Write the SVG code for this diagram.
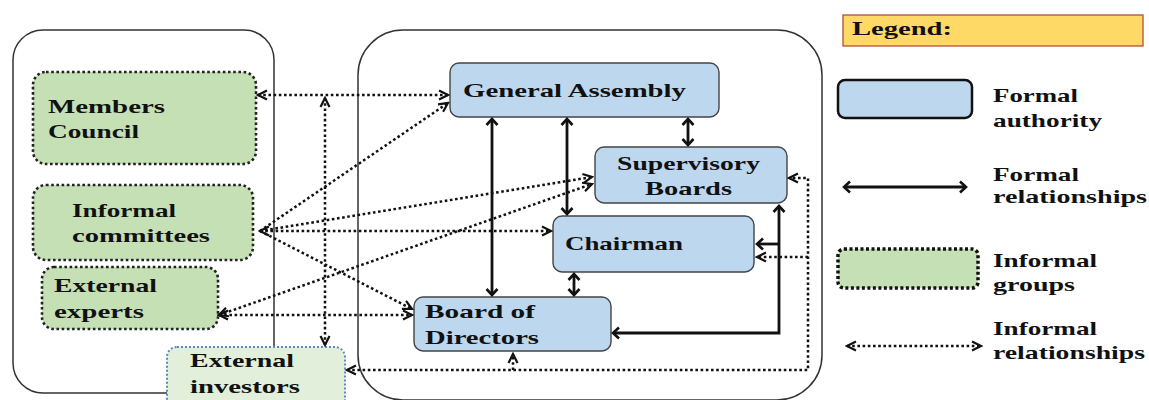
<svg xmlns="http://www.w3.org/2000/svg" width="1149" height="400" viewBox="0 0 1149 400">
<style>
text{font-family:"Liberation Serif","DejaVu Serif",serif;font-weight:bold;font-size:19.5px;fill:#111;}
.cont{fill:none;stroke:#333;stroke-width:1.5;}
.formal{fill:#bdd7ee;stroke:#444;stroke-width:1.4;}
.informal{fill:#c5e0b4;stroke:#222;stroke-width:2.6;stroke-dasharray:2.6 2.6;}
.ext{fill:#e2efda;stroke:#5b8cc0;stroke-width:2;stroke-dasharray:2 2;}
.dl{fill:none;stroke:#111;stroke-width:2.5;stroke-dasharray:2.6 2.6;}
.sl{fill:none;stroke:#111;stroke-width:2.8;}
</style>
<defs>
<marker id="oa" markerUnits="userSpaceOnUse" viewBox="-12 -7 14 14" markerWidth="14" markerHeight="14" refX="0" refY="0" orient="auto-start-reverse">
<path d="M-9,-4.5 L0,0 L-9,4.5" fill="none" stroke="#111" stroke-width="2.2"/>
</marker>
<marker id="fa" markerUnits="userSpaceOnUse" viewBox="-12 -7 14 14" markerWidth="14" markerHeight="14" refX="0" refY="0" orient="auto-start-reverse">
<path d="M-6,-5.5 L0,0 L-6,5.5" fill="none" stroke="#111" stroke-width="2.6"/>
</marker>
</defs>

<g id="containers">
<rect class="cont" x="13" y="30" width="261" height="363" rx="30"/>
<rect class="cont" x="358" y="30" width="464" height="370" rx="45"/>
</g>

<g id="members-council">
<rect class="informal" x="33" y="72" width="223" height="92" rx="13"/>
<text x="48" y="113" textLength="117" lengthAdjust="spacingAndGlyphs">Members</text>
<text x="48" y="138" textLength="91" lengthAdjust="spacingAndGlyphs">Council</text>
</g>
<g id="informal-committees">
<rect class="informal" x="33" y="185" width="220" height="75" rx="13"/>
<text x="72" y="217" textLength="104" lengthAdjust="spacingAndGlyphs">Informal</text>
<text x="72" y="242" textLength="138" lengthAdjust="spacingAndGlyphs">committees</text>
</g>
<g id="external-experts">
<rect class="informal" x="42" y="267" width="176" height="62" rx="12"/>
<text x="54" y="292" textLength="103" lengthAdjust="spacingAndGlyphs">External</text>
<text x="54" y="318" textLength="90" lengthAdjust="spacingAndGlyphs">experts</text>
</g>
<g id="external-investors">
<rect class="ext" x="167" y="347" width="178" height="62" rx="10"/>
<text x="190" y="367" textLength="104" lengthAdjust="spacingAndGlyphs">External</text>
<text x="190" y="393" textLength="110" lengthAdjust="spacingAndGlyphs">investors</text>
</g>

<g id="general-assembly">
<rect class="formal" x="450" y="63" width="269" height="54" rx="9"/>
<text x="463" y="97" textLength="223" lengthAdjust="spacingAndGlyphs">General Assembly</text>
</g>
<g id="supervisory-boards">
<rect class="formal" x="595" y="147" width="192" height="56" rx="9"/>
<text x="617" y="170" textLength="143" lengthAdjust="spacingAndGlyphs">Supervisory</text>
<text x="645" y="195" textLength="87" lengthAdjust="spacingAndGlyphs">Boards</text>
</g>
<g id="chairman">
<rect class="formal" x="553" y="216" width="201" height="56" rx="9"/>
<text x="565" y="250" textLength="118" lengthAdjust="spacingAndGlyphs">Chairman</text>
</g>
<g id="board-of-directors">
<rect class="formal" x="414" y="297" width="197" height="54" rx="9"/>
<text x="425" y="318" textLength="110" lengthAdjust="spacingAndGlyphs">Board of</text>
<text x="425" y="344" textLength="114" lengthAdjust="spacingAndGlyphs">Directors</text>
</g>

<g id="connectors">
<path class="dl" d="M258,95 H448" marker-start="url(#oa)" marker-end="url(#oa)"/>
<path class="dl" d="M325,98 V345" marker-start="url(#oa)" marker-end="url(#oa)"/>
<path class="dl" d="M260,231 L448,103" marker-end="url(#oa)"/>
<path class="dl" d="M260,231 L592,177" marker-end="url(#oa)"/>
<path class="dl" d="M260,231 H551" marker-start="url(#oa)" marker-end="url(#oa)"/>
<path class="dl" d="M260,231 L412,309" marker-end="url(#oa)"/>
<path class="dl" d="M219,315 H412" marker-start="url(#oa)" marker-end="url(#oa)"/>
<path class="dl" d="M219,315 L592,184" marker-start="url(#oa)" marker-end="url(#oa)"/>
<path class="dl" d="M347,370 H808 V178 H789" marker-start="url(#oa)" marker-end="url(#oa)"/>
<path class="dl" d="M808,257 H757" marker-end="url(#oa)"/>
<path class="dl" d="M513,370 V354" marker-end="url(#oa)"/>

<path class="sl" d="M492,119 V295" marker-start="url(#fa)" marker-end="url(#fa)"/>
<path class="sl" d="M567,119 V214" marker-start="url(#fa)" marker-end="url(#fa)"/>
<path class="sl" d="M688,119 V145" marker-start="url(#fa)" marker-end="url(#fa)"/>
<path class="sl" d="M574,274 V295" marker-start="url(#fa)" marker-end="url(#fa)"/>
<path class="sl" d="M613,333 H779 V206" marker-start="url(#fa)" marker-end="url(#fa)"/>
<path class="sl" d="M779,244 H757" marker-end="url(#fa)"/>
</g>

<g id="legend">
<rect x="843" y="15" width="300" height="31" fill="#ffd966" stroke="#b0503d" stroke-width="1.3"/>
<text x="852" y="35" textLength="100" lengthAdjust="spacingAndGlyphs">Legend:</text>
<rect x="838" y="80" width="134" height="38" rx="7" fill="#bdd7ee" stroke="#111" stroke-width="2.5"/>
<text x="993" y="102" textLength="85" lengthAdjust="spacingAndGlyphs">Formal</text>
<text x="993" y="127" textLength="109" lengthAdjust="spacingAndGlyphs">authority</text>
<path class="sl" d="M844,187 H966" marker-start="url(#fa)" marker-end="url(#fa)"/>
<text x="993" y="181" textLength="86" lengthAdjust="spacingAndGlyphs">Formal</text>
<text x="993" y="203" textLength="154" lengthAdjust="spacingAndGlyphs">relationships</text>
<rect x="838" y="249" width="140" height="39" rx="6" fill="#c5e0b4" stroke="#111" stroke-width="3.5" stroke-dasharray="3 2.5"/>
<text x="993" y="267" textLength="104" lengthAdjust="spacingAndGlyphs">Informal</text>
<text x="993" y="291" textLength="82" lengthAdjust="spacingAndGlyphs">groups</text>
<path class="dl" d="M847,346 H981" marker-start="url(#oa)" marker-end="url(#oa)"/>
<text x="993" y="335" textLength="104" lengthAdjust="spacingAndGlyphs">Informal</text>
<text x="993" y="359" textLength="152" lengthAdjust="spacingAndGlyphs">relationships</text>
</g>
</svg>
